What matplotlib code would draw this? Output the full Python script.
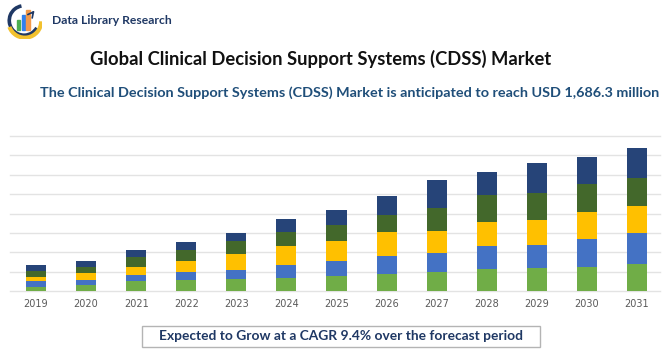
import numpy as np
import matplotlib.pyplot as plt
from matplotlib.patches import Arc, Rectangle

# Market segments, USD million
years = ['2019', '2020', '2021', '2022', '2023', '2024', '2025',
         '2026', '2027', '2028', '2029', '2030', '2031']
seg1 = [51, 67, 114, 130, 145, 153, 177, 197, 224, 263, 271, 287, 318]
seg2 = [63, 59, 79, 90, 102, 157, 177, 216, 224, 271, 275, 322, 362]
seg3 = [55, 90, 94, 138, 185, 224, 236, 283, 263, 279, 287, 326, 326]
seg4 = [71, 67, 110, 126, 157, 161, 185, 200, 267, 318, 322, 322, 318]
seg5 = [63, 67, 83, 98, 90, 157, 177, 220, 326, 271, 354, 322, 362]
colors = ['#70AD47', '#4472C4', '#FFC000', '#43682B', '#264478']

W, H = 670, 350
fig = plt.figure(figsize=(W / 100, H / 100), dpi=100)
fig.patch.set_facecolor('white')

ax = fig.add_axes([10 / W, 1 - 291 / H, 650 / W, 155 / H])
x = np.arange(len(years))
bottom = np.zeros(len(years))
for vals, c in zip([seg1, seg2, seg3, seg4, seg5], colors):
    ax.bar(x, vals, width=0.4, bottom=bottom, color=c, zorder=3)
    bottom += np.array(vals)

ax.set_xlim(-0.52, 12.46)
ax.set_ylim(0, 1824)
ax.set_yticks(np.arange(0, 1825, 228))
ax.yaxis.grid(True, color='#E3E3E3', linewidth=1.0, zorder=0)
for gl in ax.get_ygridlines():
    gl.set_clip_on(False)
ax.tick_params(axis='y', left=False, labelleft=False)
ax.tick_params(axis='x', length=0, pad=6, labelsize=7, labelcolor='#595959')
ax.set_xticks(x)
ax.set_xticklabels(years)
for s in ax.spines.values():
    s.set_visible(False)
ax.set_facecolor('none')

# titles
fig.text(321 / W, 1 - 59 / H, 'Global Clinical Decision Support Systems (CDSS) Market',
         ha='center', va='center', fontsize=13.2, fontweight='bold',
         family='Lato', color='#111111')
fig.text(350 / W, 1 - 93 / H,
         'The Clinical Decision Support Systems (CDSS) Market is anticipated to reach USD 1,686.3 million',
         ha='center', va='center', fontsize=10.4, fontweight='bold',
         family='Lato', color='#1F4E79')

# bottom box
fig.patches.append(Rectangle((142 / W, 1 - 346.5 / H), 398 / W, 20.5 / H,
                             transform=fig.transFigure, facecolor='white',
                             edgecolor='#B4B4B4', linewidth=1.0))
fig.text(341 / W, 1 - 336 / H, 'Expected to Grow at a CAGR 9.4% over the forecast period',
         ha='center', va='center', fontsize=9.9, fontweight='bold',
         family='Lato', color='#1F3864')

# logo
lax = fig.add_axes([6 / W, 1 - 39 / H, 36 / W, 37 / H])
lax.set_xlim(-1.1, 1.1)
lax.set_ylim(-1.1, 1.1)
lax.set_aspect('equal')
lax.axis('off')
lax.add_patch(Arc((0, 0), 1.8, 1.8, theta1=100, theta2=330, color='#1F3864', lw=2.6))
lax.add_patch(Arc((0.05, -0.05), 2.0, 2.0, theta1=200, theta2=360, color='#F2C12E', lw=3))
for bx, bh, bc in [(-0.45, 0.6, '#4CAF50'), (-0.15, 0.9, '#2F80ED'), (0.15, 1.2, '#F2994A')]:
    lax.add_patch(Rectangle((bx, -0.55), 0.22, bh, color=bc))
lax.annotate('', xy=(0.75, 0.75), xytext=(0.4, 0.3),
             arrowprops=dict(arrowstyle='->', color='#1F3864', lw=1.2))
fig.text(52 / W, 1 - 21 / H, 'Data Library Research', ha='left', va='center',
         fontsize=8.7, fontweight='bold', family='Lato', color='#1F3864')

fig.savefig('out.png', dpi=100, facecolor='white')
